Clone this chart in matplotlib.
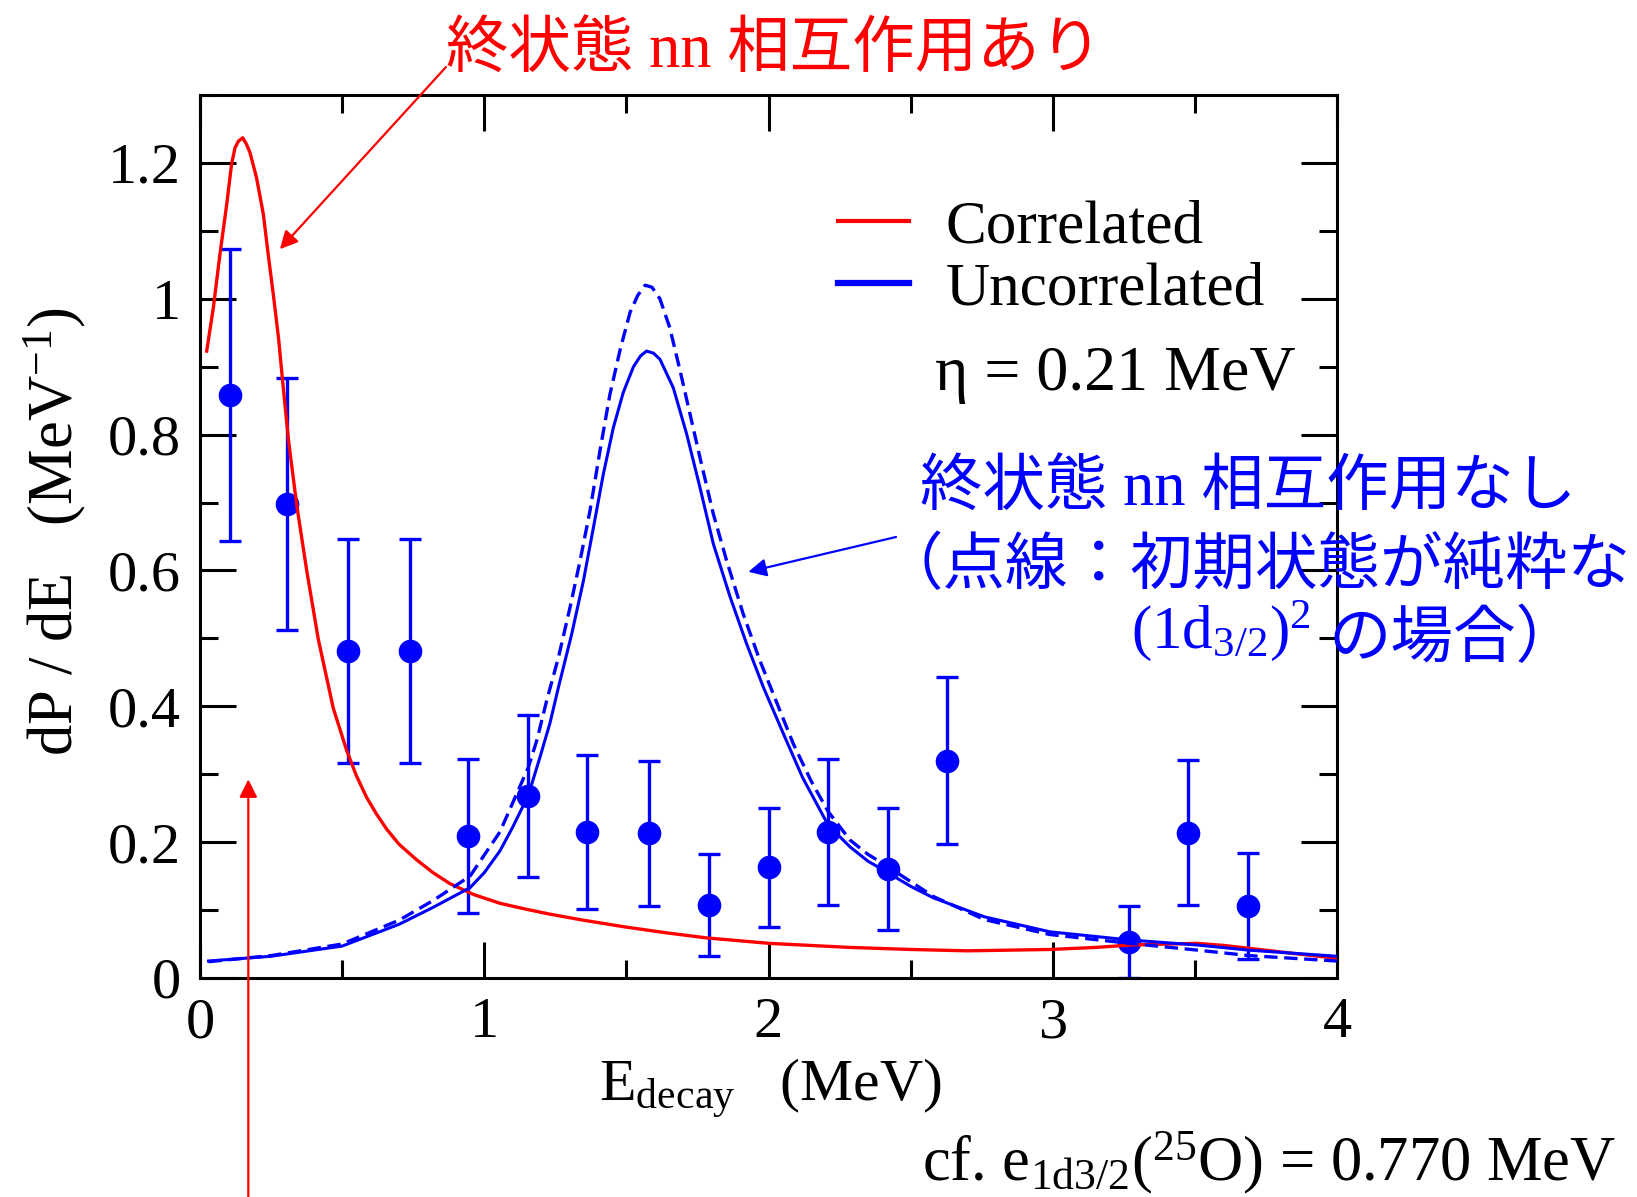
import matplotlib
matplotlib.use("Agg")
import matplotlib.pyplot as plt
from matplotlib.ticker import FixedLocator, MultipleLocator

# ---- measured decay-energy spectrum ----
e_data = [0.106, 0.307, 0.522, 0.739, 0.944, 1.155, 1.363, 1.580,
          1.789, 2.003, 2.211, 2.419, 2.627, 3.270, 3.477, 3.686]
p_data = [0.858, 0.698, 0.482, 0.482, 0.209, 0.268, 0.215, 0.213,
          0.107, 0.163, 0.215, 0.160, 0.320, 0.053, 0.214, 0.106]
p_err = [0.215, 0.185, 0.165, 0.165, 0.114, 0.119, 0.114, 0.107,
         0.075, 0.088, 0.107, 0.090, 0.123, 0.053, 0.107, 0.078]

# ---- correlated (final-state nn interaction) ----
e_corr = [0.0235, 0.047, 0.070, 0.094, 0.111, 0.123, 0.135, 0.150, 0.163,
          0.176, 0.199, 0.223, 0.240, 0.258, 0.276, 0.293, 0.311, 0.340,
          0.375, 0.416, 0.469, 0.516, 0.55, 0.586, 0.62, 0.657, 0.70, 0.762,
          0.82, 0.879, 0.962, 1.055, 1.15, 1.231, 1.35, 1.498, 1.65, 1.783,
          2.003, 2.287, 2.5, 2.7, 2.99, 3.15, 3.272, 3.40, 3.506, 3.60,
          3.694, 3.85, 4.0]
p_corr = [0.923, 0.987, 1.065, 1.139, 1.198, 1.222, 1.232, 1.237, 1.228,
          1.215, 1.178, 1.124, 1.065, 1.006, 0.943, 0.869, 0.793, 0.697,
          0.601, 0.499, 0.397, 0.335, 0.298, 0.266, 0.242, 0.219, 0.197, 0.174,
          0.155, 0.139, 0.123, 0.110, 0.101, 0.094, 0.085, 0.075, 0.066, 0.059,
          0.051, 0.045, 0.042, 0.040, 0.042, 0.045, 0.0485, 0.050, 0.051, 0.048,
          0.0436, 0.036, 0.029]

# ---- uncorrelated (no final-state nn interaction) ----
e_unc = [0.03, 0.25, 0.50, 0.70, 0.82, 0.95, 1.00, 1.055, 1.10, 1.155, 1.196,
         1.231, 1.261, 1.308, 1.349, 1.384, 1.419, 1.454, 1.489, 1.525, 1.55,
         1.571, 1.595, 1.618, 1.665, 1.712, 1.759, 1.806, 1.865, 1.923, 1.982,
         2.052, 2.12, 2.21, 2.287, 2.35, 2.42, 2.50, 2.58, 2.76, 2.99, 3.27,
         3.51, 3.69, 4.00]
p_unc = [0.025, 0.032, 0.047, 0.079, 0.104, 0.133, 0.155, 0.187, 0.222, 0.269, 0.325,
         0.375, 0.428, 0.507, 0.585, 0.663, 0.742, 0.810, 0.862, 0.900, 0.916,
         0.923, 0.920, 0.911, 0.869, 0.801, 0.722, 0.639, 0.561, 0.492, 0.428,
         0.360, 0.295, 0.225, 0.193, 0.172, 0.155, 0.135, 0.118, 0.090, 0.068, 0.056,
         0.0485, 0.041, 0.032]

# ---- uncorrelated, pure (1d3/2)^2 initial state ----
e_pure = [0.03, 0.25, 0.50, 0.70, 0.82, 0.95, 1.055, 1.155, 1.185, 1.220, 1.261,
          1.302, 1.337, 1.372, 1.407, 1.442, 1.478, 1.513, 1.54, 1.566, 1.59,
          1.618, 1.653, 1.689, 1.724, 1.759, 1.806, 1.853, 1.911, 1.970, 2.040,
          2.087, 2.15, 2.21, 2.287, 2.35, 2.416, 2.50, 2.58, 2.76, 2.99, 3.27,
          3.51, 3.69, 4.00]
p_pure = [0.024, 0.033, 0.050, 0.085, 0.114, 0.150, 0.215, 0.310, 0.350, 0.409, 0.472,
          0.546, 0.614, 0.688, 0.776, 0.859, 0.925, 0.980, 1.005, 1.020, 1.017,
          1.000, 0.957, 0.894, 0.830, 0.766, 0.683, 0.614, 0.536, 0.467, 0.394,
          0.345, 0.290, 0.245, 0.203, 0.182, 0.165, 0.142, 0.120, 0.086, 0.064, 0.051,
          0.041, 0.033, 0.025]

x_ticks = [0, 1, 2, 3, 4]
x_tick_labels = ["0", "1", "2", "3", "4"]
y_ticks = [0, 0.2, 0.4, 0.6, 0.8, 1.0, 1.2]
y_tick_labels = ["0", "0.2", "0.4", "0.6", "0.8", "1", "1.2"]

legend_labels = ["Correlated", "Uncorrelated"]

RED = "#ff0000"
BLUE = "#0000ff"
SERIF = "Liberation Serif"
JP = ["Liberation Serif", "Noto Sans CJK JP"]

plt.rcParams["font.family"] = SERIF
plt.rcParams["mathtext.fontset"] = "custom"
plt.rcParams["mathtext.rm"] = SERIF
plt.rcParams["mathtext.it"] = SERIF + ":italic"
plt.rcParams["mathtext.bf"] = SERIF + ":bold"

W, H = 1637, 1197
fig = plt.figure(figsize=(W / 100, H / 100), dpi=100)


def fx(px):
    return px / W


def fy(py):
    return 1 - py / H


ax = fig.add_axes([fx(200), fy(978), fx(1337) - fx(200), fy(95) - fy(978)])

ax.errorbar(e_data, p_data, yerr=p_err, fmt="o", color=BLUE, ms=16,
            elinewidth=2.4, capsize=8, capthick=2.4, zorder=2)
l_corr, = ax.plot(e_corr, p_corr, color=RED, lw=2.4, zorder=3)
l_unc, = ax.plot(e_unc, p_unc, color=BLUE, lw=2.2, zorder=3)
ax.plot(e_pure, p_pure, color=BLUE, lw=2.4, dashes=(4, 2), zorder=3)

ax.set_xlim(0, 4)
ax.set_ylim(0, 1.3)
ax.xaxis.set_major_locator(FixedLocator(x_ticks))
ax.set_xticklabels(x_tick_labels)
ax.yaxis.set_major_locator(FixedLocator(y_ticks))
ax.set_yticklabels(y_tick_labels)
ax.xaxis.set_minor_locator(MultipleLocator(0.5))
ax.yaxis.set_minor_locator(MultipleLocator(0.1))
ax.tick_params(which="both", direction="in", top=True, right=True,
               width=2.2, color="black")
ax.tick_params(which="major", length=26, pad=14, labelsize=42)
ax.tick_params(which="minor", length=13)
for sp in ax.spines.values():
    sp.set_linewidth(2.2)

leg = ax.legend([l_corr, l_unc], legend_labels, loc="upper left",
                bbox_to_anchor=(fx(838), fy(200)), bbox_transform=fig.transFigure,
                frameon=False, prop={"family": SERIF, "size": 44},
                handlelength=1.16, handletextpad=0.6, labelspacing=0.1,
                borderpad=0, borderaxespad=0)
leg.get_lines()[1].set_linewidth(4.5)
leg.get_lines()[0].set_linewidth(3.0)

fig.text(fx(1296), fy(390), "η = 0.21 MeV", ha="right", va="baseline",
         fontsize=46, family=SERIF)

# axis labels
fig.text(fx(770), fy(1101), r"$\mathrm{E}_{\mathrm{decay}}$   (MeV)",
         ha="center", va="baseline", fontsize=43)
fig.text(fx(55), fy(532), r"dP / dE   (MeV$^{-1}$)", rotation=90,
         ha="center", va="center", fontsize=45)

fig.text(fx(1616), fy(1180), r"cf. $\mathrm{e}_{\mathrm{1d3/2}}(^{25}\mathrm{O})$ = 0.770 MeV",
         ha="right", va="baseline", fontsize=45)

# annotations
fig.text(fx(446), fy(67), "終状態 nn 相互作用あり", ha="left", va="baseline",
         fontsize=45, color=RED, family=JP)
fig.text(fx(920), fy(505), "終状態 nn 相互作用なし", ha="left", va="baseline",
         fontsize=45, color=BLUE, family=JP)
fig.text(fx(881), fy(584), "（点線：初期状態が純粋な", ha="left", va="baseline",
         fontsize=45, color=BLUE, family=JP)
fig.text(fx(1131), fy(648), r"$(1\mathrm{d}_{3/2})^2$", ha="left", va="baseline",
         fontsize=44, color=BLUE)
fig.text(fx(1328), fy(657), "の場合）", ha="left", va="baseline",
         fontsize=45, color=BLUE, family=JP)

arrow_kw = dict(arrowstyle="-|>", lw=1.6, mutation_scale=27, shrinkA=0, shrinkB=0)
ax.annotate("", xy=(0.281, 1.073), xycoords="data",
            xytext=(fx(446), fy(67)), textcoords="figure fraction",
            arrowprops=dict(color=RED, **arrow_kw), annotation_clip=False)
ax.annotate("", xy=(0.17, 0.2925), xycoords="data",
            xytext=(0.17, 0.0), textcoords=("data", "figure fraction"),
            arrowprops=dict(color=RED, **arrow_kw), annotation_clip=False)
ax.annotate("", xy=(1.929, 0.598), xycoords="data",
            xytext=(fx(896), fy(537)), textcoords="figure fraction",
            arrowprops=dict(color=BLUE, **arrow_kw), annotation_clip=False)

fig.savefig("out.png", dpi=100)
